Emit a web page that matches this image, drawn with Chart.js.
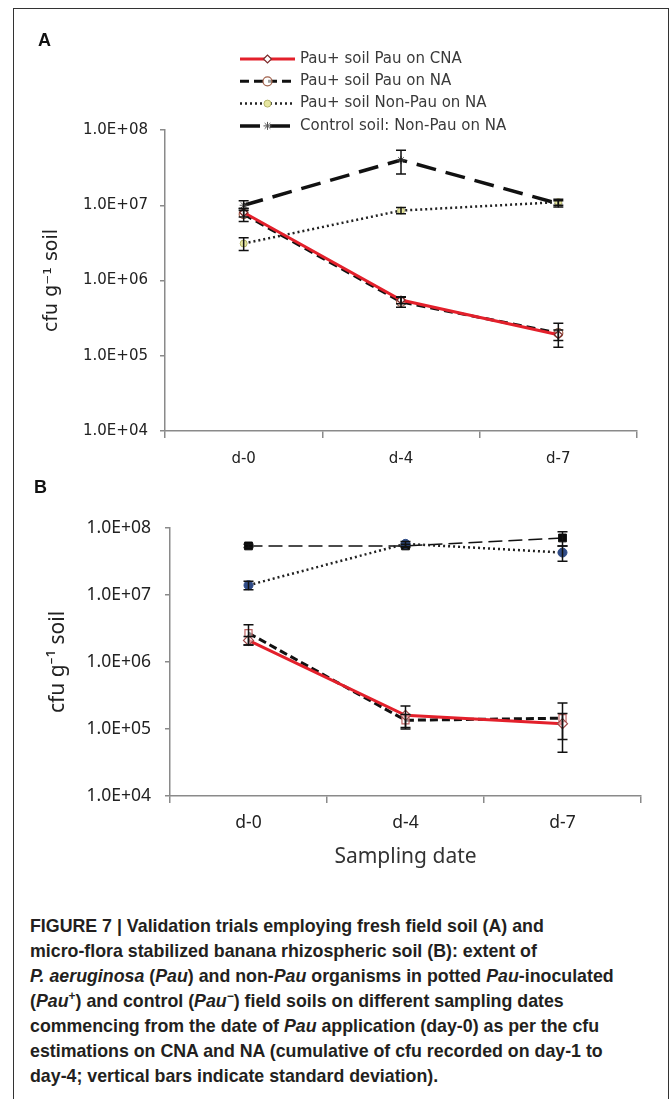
<!DOCTYPE html>
<html>
<head>
<meta charset="utf-8">
<script src="https://cdn.jsdelivr.net/npm/chart.js"></script>
<style>
  body { margin: 0; background: #fff; width: 672px; height: 1099px; overflow: hidden; position: relative; }
  .frame { position: absolute; left: 13px; top: 8px; width: 654px; height: 1200px; border: 1.5px solid #333; }
  canvas { position: absolute; left: 0; }
  #chartA { top: 0; }
  #chartB { top: 470px; }
  .panel { position: absolute; font: bold 18px "Liberation Sans", Arial, sans-serif; color: #111; }
  .caption { position: absolute; left: 30px; top: 914px; width: 640px; font-family: "Liberation Sans Narrow", "Liberation Sans", Arial, sans-serif; font-weight: bold; font-size: 17.8px; line-height: 25px; color: #231f20; white-space: nowrap; }
</style>
</head>
<body>
<div class="frame"></div>
<canvas id="chartA" width="672" height="470"></canvas>
<canvas id="chartB" width="672" height="420"></canvas>
<div class="panel" style="left:38px;top:30px;">A</div>
<div class="panel" style="left:34px;top:477px;">B</div>
<div class="caption">
FIGURE 7 | Validation trials employing fresh field soil (A) and<br>
micro-flora stabilized banana rhizospheric soil (B): extent of<br>
<i>P. aeruginosa</i> (<i>Pau</i>) and non-<i>Pau</i> organisms in potted <i>Pau</i>-inoculated<br>
(<i>Pau</i><sup style="font-size:12px;line-height:0">+</sup>) and control (<i>Pau</i><sup style="font-size:12px;line-height:0">&minus;</sup>) field soils on different sampling dates<br>
commencing from the date of <i>Pau</i> application (day-0) as per the cfu<br>
estimations on CNA and NA (cumulative of cfu recorded on day-1 to<br>
day-4; vertical bars indicate standard deviation).
</div>
<script>
// ======= DATA =======
const categories = ['d-0', 'd-4', 'd-7'];
const yTicks = [1e4, 1e5, 1e6, 1e7, 1e8];
const seriesNames = ['Pau+ soil Pau on CNA', 'Pau+ soil Pau on NA', 'Pau+ soil Non-Pau on NA', 'Control soil: Non-Pau on NA'];

// Panel A: fresh field soil
const cnaA = [8.0e6, 5.5e5, 1.9e5];
const cnaErrA = [1.0e6, 0.6e5, 0.3e5];
const naA = [7.6e6, 5.2e5, 2.0e5];
const naErrA = [1.5e6, 0.8e5, 0.7e5];
const nonPauA = [3.1e6, 8.5e6, 1.1e7];
const nonPauErrA = [0.6e6, 0.8e6, 1.0e6];
const controlA = [1.0e7, 4.0e7, 1.05e7];
const controlErrA = [1.5e6, 1.4e7, 1.0e6];

// Panel B: banana rhizospheric soil
const cnaB = [2.1e6, 1.6e5, 1.2e5];
const cnaErrB = [0.3e6, 0.6e5, 0.5e5];
const naB = [2.7e6, 1.35e5, 1.45e5];
const naErrB = [0.9e6, 0.3e5, 1.0e5];
const nonPauB = [1.4e7, 5.8e7, 4.3e7];
const nonPauErrB = [0.2e7, 0.5e7, 1.1e7];
const controlB = [5.4e7, 5.4e7, 7.1e7];
const controlErrB = [0.3e7, 0.3e7, 1.7e7];

Chart.defaults.animation = false;
Chart.defaults.devicePixelRatio = 1;

const fmtExp = v => '1.0E+' + String(Math.round(Math.log10(v))).padStart(2, '0');

// ======= ERROR BAR PLUGIN =======
const errorBars = {
  id: 'errorBars',
  afterDatasetsDraw(chart) {
    const {ctx, scales: {x, y}} = chart;
    ctx.save();
    ctx.strokeStyle = '#111';
    ctx.lineWidth = 1.5;
    ctx.setLineDash([]);
    chart.data.datasets.forEach(ds => {
      if (!ds.errors) return;
      ds.data.forEach((v, i) => {
        const px = x.getPixelForValue(i);
        const top = y.getPixelForValue(v + ds.errors[i]);
        const bot = y.getPixelForValue(Math.max(v - ds.errors[i], 1e4));
        ctx.beginPath();
        ctx.moveTo(px, top); ctx.lineTo(px, bot);
        ctx.moveTo(px - 5, top); ctx.lineTo(px + 5, top);
        ctx.moveTo(px - 5, bot); ctx.lineTo(px + 5, bot);
        ctx.stroke();
      });
    });
    ctx.restore();
  }
};

// ======= LEGEND PLUGIN (panel A only) =======
const sideLegend = {
  id: 'sideLegend',
  afterDraw(chart, args, opts) {
    if (!opts.show) return;
    const ctx = chart.ctx;
    ctx.save();
    chart.data.datasets.forEach((ds, i) => {
      const yy = opts.top + i * opts.step;
      ctx.setLineDash(ds.borderDash || []);
      ctx.strokeStyle = ds.borderColor;
      ctx.lineWidth = ds.borderWidth;
      ctx.beginPath();
      ctx.moveTo(opts.x0, yy); ctx.lineTo(opts.x1, yy);
      ctx.stroke();
      ctx.setLineDash([]);
      ctx.fillStyle = ds.pointBackgroundColor;
      ctx.strokeStyle = ds.pointBorderColor;
      ctx.lineWidth = ds.pointBorderWidth;
      Chart.helpers.drawPoint(ctx, {pointStyle: ds.pointStyle, radius: ds.pointRadius, borderWidth: ds.pointBorderWidth, rotation: 0}, (opts.x0 + opts.x1) / 2, yy);
      ctx.fillStyle = '#3a3a3a';
      ctx.font = opts.font;
      ctx.textBaseline = 'middle';
      ctx.fillText(ds.label, opts.x1 + 5, yy);
    });
    ctx.restore();
  }
};

function makeChart(id, sets, o) {
  return new Chart(document.getElementById(id), {
    type: 'line',
    data: { labels: categories, datasets: sets },
    plugins: [errorBars, sideLegend],
    options: {
      responsive: false,
      layout: { padding: { top: o.top, right: o.right, left: 0, bottom: 0 } },
      plugins: {
        legend: { display: false },
        tooltip: { enabled: false },
        sideLegend: o.legend
      },
      elements: { line: { tension: 0 } },
      scales: {
        x: {
          type: 'category',
          offset: true,
          grid: { offset: true, drawOnChartArea: false, drawTicks: true, tickLength: 7, color: '#8a8a8a', lineWidth: 1.5 },
          border: { color: '#8a8a8a', width: 1.5 },
          ticks: { color: '#222', font: o.tickFont, padding: o.xPad },
          title: o.xTitle,
          afterFit: s => { s.height = o.xHeight; }
        },
        y: {
          type: 'logarithmic',
          min: 1e4,
          max: 1e8,
          grid: { drawOnChartArea: false, drawTicks: true, tickLength: 5, color: '#8a8a8a', lineWidth: 1.5 },
          border: { color: '#8a8a8a', width: 1.5 },
          afterBuildTicks: s => { s.ticks = yTicks.map(v => ({ value: v, major: true })); },
          ticks: { color: '#222', font: o.tickFont, padding: o.yPad, callback: v => fmtExp(v) },
          title: { display: true, text: 'cfu g\u207B\u00B9 soil', color: '#222', font: o.yTitleFont, padding: { top: o.yTitlePad, bottom: 0 } },
          afterFit: s => { s.width = o.yWidth; }
        }
      }
    }
  });
}

// ======= PANEL A =======
makeChart('chartA', [
  { label: seriesNames[0], data: cnaA, errors: cnaErrA, borderColor: '#e3202b', borderWidth: 3, pointStyle: 'rectRot', pointRadius: 4, pointBackgroundColor: '#fff', pointBorderColor: '#7a2a2a', pointBorderWidth: 1.2 },
  { label: seriesNames[1], data: naA, errors: naErrA, borderColor: '#111', borderWidth: 3, borderDash: [9, 5], pointStyle: 'circle', pointRadius: 4.5, pointBackgroundColor: 'rgba(255,255,255,0.6)', pointBorderColor: '#a0604a', pointBorderWidth: 1.2 },
  { label: seriesNames[2], data: nonPauA, errors: nonPauErrA, borderColor: '#222', borderWidth: 2.5, borderDash: [2, 3], pointStyle: 'circle', pointRadius: 3.5, pointBackgroundColor: '#e6e6a0', pointBorderColor: '#b4b46a', pointBorderWidth: 1 },
  { label: seriesNames[3], data: controlA, errors: controlErrA, borderColor: '#111', borderWidth: 3.5, borderDash: [20, 10], pointStyle: 'star', pointRadius: 4, pointBackgroundColor: '#555', pointBorderColor: '#555', pointBorderWidth: 1 }
], {
  top: 130, right: 35, yWidth: 165, xHeight: 39, xPad: 12, yPad: 12,
  tickFont: { family: 'DejaVu Sans', size: 15 },
  yTitleFont: { family: 'DejaVu Sans', size: 19 },
  yTitlePad: 41,
  xTitle: { display: false },
  legend: { show: true, top: 59, step: 22.3, x0: 240, x1: 295, font: '15px "DejaVu Sans"' }
});

// ======= PANEL B =======
makeChart('chartB', [
  { label: seriesNames[0], data: cnaB, errors: cnaErrB, borderColor: '#e3202b', borderWidth: 3, pointStyle: 'rectRot', pointRadius: 5, pointBackgroundColor: 'rgba(255,255,255,0.5)', pointBorderColor: '#a04848', pointBorderWidth: 1.2 },
  { label: seriesNames[1], data: naB, errors: naErrB, borderColor: '#111', borderWidth: 3, borderDash: [8, 4], pointStyle: 'rect', pointRadius: 5, pointBackgroundColor: 'rgba(255,255,255,0.5)', pointBorderColor: '#c06464', pointBorderWidth: 1.2 },
  { label: seriesNames[2], data: nonPauB, errors: nonPauErrB, borderColor: '#222', borderWidth: 2.5, borderDash: [2, 3], pointStyle: 'circle', pointRadius: 4.5, pointBackgroundColor: '#2f4b86', pointBorderColor: '#2f4b86', pointBorderWidth: 1 },
  { label: seriesNames[3], data: controlB, errors: controlErrB, borderColor: '#111', borderWidth: 1.5, borderDash: [14, 6], pointStyle: 'rect', pointRadius: 5.5, pointBackgroundColor: '#0a0a0a', pointBorderColor: '#0a0a0a', pointBorderWidth: 1 }
], {
  top: 58, right: 31, yWidth: 170, xHeight: 94, xPad: 10, yPad: 14,
  tickFont: { family: 'Noto Sans', size: 17.5 },
  yTitleFont: { family: 'Noto Sans', size: 21 },
  yTitlePad: 45,
  xTitle: { display: true, text: 'Sampling date', color: '#333', font: { family: 'Noto Sans', size: 21 }, padding: { top: 0, bottom: 20 } },
  legend: { show: false }
});
</script>
</body>
</html>
